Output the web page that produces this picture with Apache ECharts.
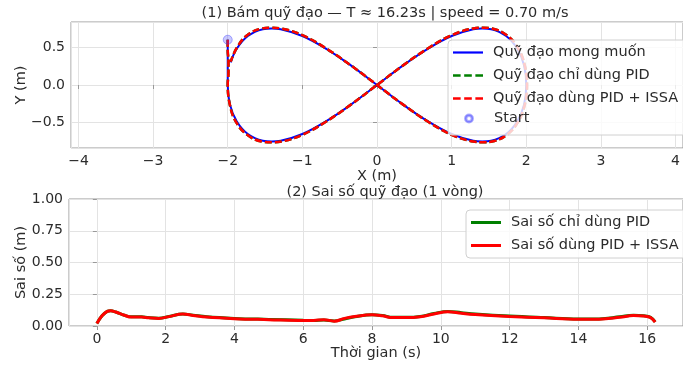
<!DOCTYPE html>
<html>
<head>
<meta charset="utf-8">
<script src="https://cdn.jsdelivr.net/npm/echarts@6/dist/echarts.min.js"></script>
<style>
  html, body { margin: 0; padding: 0; background: #fff; }
  #chart { width: 683px; height: 367px; }
</style>
</head>
<body>
<div id="chart"></div>
<script>
// (1) trajectory: [x, y] in metres
const desiredPath = [
  [-2.00, 0.60], [-2.00, 0.45], [-2.00, 0.30], [-2.00, 0.15], [-2.00, 0.00],
  [-1.97, -0.26], [-1.88, -0.48], [-1.73, -0.65], [-1.53, -0.74], [-1.41, -0.75],
  [-1.29, -0.74], [-1.00, -0.65], [-0.68, -0.48], [-0.35, -0.26], [0.00, 0.00],
  [0.35, 0.26], [0.68, 0.48], [1.00, 0.65], [1.29, 0.74], [1.41, 0.75],
  [1.53, 0.74], [1.73, 0.65], [1.88, 0.48], [1.97, 0.26], [2.00, 0.00],
  [1.97, -0.26], [1.88, -0.48], [1.73, -0.65], [1.53, -0.74], [1.41, -0.75],
  [1.29, -0.74], [1.00, -0.65], [0.68, -0.48], [0.35, -0.26], [0.00, 0.00],
  [-0.35, 0.26], [-0.68, 0.48], [-1.00, 0.65], [-1.29, 0.74], [-1.41, 0.75],
  [-1.53, 0.74], [-1.73, 0.65], [-1.88, 0.48], [-1.96, 0.30]
];
const pidPath = [
  [-2.00, 0.60], [-2.00, 0.46], [-1.99, 0.32], [-1.99, 0.17], [-2.00, 0.01],
  [-1.97, -0.27], [-1.89, -0.49], [-1.74, -0.66], [-1.54, -0.75], [-1.41, -0.76],
  [-1.28, -0.75], [-1.00, -0.66], [-0.69, -0.49], [-0.35, -0.26], [0.00, 0.00],
  [0.35, 0.26], [0.69, 0.49], [1.00, 0.66], [1.29, 0.75], [1.42, 0.76],
  [1.54, 0.75], [1.74, 0.66], [1.89, 0.49], [1.98, 0.26], [2.01, 0.00],
  [1.98, -0.26], [1.89, -0.49], [1.74, -0.66], [1.54, -0.75], [1.42, -0.76],
  [1.29, -0.75], [1.00, -0.66], [0.69, -0.49], [0.35, -0.26], [0.00, 0.00],
  [-0.35, 0.26], [-0.69, 0.49], [-1.00, 0.66], [-1.29, 0.75], [-1.42, 0.76],
  [-1.54, 0.75], [-1.74, 0.66], [-1.88, 0.49], [-1.96, 0.31]
];
const issaPath = [
  [-2.00, 0.60], [-2.00, 0.46], [-1.99, 0.32], [-1.99, 0.17], [-2.00, 0.01],
  [-1.97, -0.27], [-1.89, -0.49], [-1.74, -0.66], [-1.54, -0.75], [-1.41, -0.76],
  [-1.28, -0.75], [-1.00, -0.66], [-0.69, -0.49], [-0.35, -0.26], [0.00, 0.00],
  [0.35, 0.26], [0.69, 0.49], [1.00, 0.66], [1.29, 0.75], [1.42, 0.76],
  [1.54, 0.75], [1.74, 0.66], [1.89, 0.49], [1.98, 0.26], [2.01, 0.00],
  [1.98, -0.26], [1.89, -0.49], [1.74, -0.66], [1.54, -0.75], [1.42, -0.76],
  [1.29, -0.75], [1.00, -0.66], [0.69, -0.49], [0.35, -0.26], [0.00, 0.00],
  [-0.35, 0.26], [-0.69, 0.49], [-1.00, 0.66], [-1.29, 0.75], [-1.42, 0.76],
  [-1.54, 0.75], [-1.74, 0.66], [-1.88, 0.49], [-1.96, 0.31]
];
const startPoint = [-2.00, 0.60];

// (2) tracking error over one lap
const errTime = [0, 0.15, 0.3, 0.4, 0.55, 0.8, 1.0, 1.3, 1.5, 1.8, 2.1, 2.5, 2.8, 3.2, 4.0,
  5.0, 6.0, 6.3, 6.6, 6.9, 7.2, 7.5, 8.0, 8.3, 8.6, 9.0, 9.4, 9.8, 10.2, 10.6, 11.0,
  12.0, 13.0, 14.0, 14.6, 15.2, 15.6, 15.9, 16.1, 16.23];
const errPid = [0.02, 0.08, 0.115, 0.12, 0.11, 0.085, 0.072, 0.072, 0.066, 0.062, 0.075, 0.095, 0.085, 0.072, 0.06,
  0.052, 0.045, 0.044, 0.047, 0.04, 0.055, 0.072, 0.088, 0.082, 0.068, 0.068, 0.075, 0.098, 0.115, 0.105, 0.095,
  0.078, 0.066, 0.056, 0.056, 0.072, 0.085, 0.08, 0.068, 0.032];
const errIssa = [0.02, 0.08, 0.115, 0.12, 0.11, 0.085, 0.07, 0.07, 0.065, 0.06, 0.074, 0.094, 0.083, 0.07, 0.058,
  0.05, 0.043, 0.043, 0.05, 0.038, 0.06, 0.075, 0.088, 0.08, 0.066, 0.066, 0.073, 0.095, 0.113, 0.1, 0.09,
  0.075, 0.064, 0.054, 0.054, 0.068, 0.083, 0.078, 0.066, 0.03];

const FONT = 'DejaVu Sans';
const TXT = '#2b2b2b';
const minus = (v, d) => (v < 0 ? '\u2212' : '') + Math.abs(v).toFixed(d);

// legend glyphs: solid / dashed line and a small ring
const ICON_SOLID = 'path://M0,0h30v2.2h-30z';
const ICON_DASH = 'path://M0,0h7.5v2.6h-7.5z M11,0h7.5v2.6h-7.5z M22,0h7.5v2.6h-7.5z';
const ICON_RING = 'path://M0,4a4,4 0 1,0 8,0a4,4 0 1,0 -8,0z M1.4,4a2.6,2.6 0 1,1 5.2,0a2.6,2.6 0 1,1 -5.2,0z';

const chart = echarts.init(document.getElementById('chart'), null, { renderer: 'canvas' });

function valueAxis(extra) {
  return Object.assign({
    type: 'value',
    axisLine: { show: false },
    axisTick: { show: true, length: 4, lineStyle: { color: '#999' } },
    splitLine: { show: true, lineStyle: { color: '#e3e3e3', width: 1 } },
    nameLocation: 'middle',
    nameMoveOverlap: false,
    nameTextStyle: { color: TXT, fontSize: 14.5, fontFamily: FONT }
  }, extra);
}
function labels(d, edges) {
  return { color: TXT, fontSize: 14, fontFamily: FONT, margin: 6, showMinLabel: edges, showMaxLabel: edges,
    formatter: v => minus(v, d) };
}

const legendText = { color: TXT, fontSize: 14.5, fontFamily: FONT, padding: [0, 0, 0, 5] };

const option = {
  animation: false,
  backgroundColor: '#fff',
  textStyle: { fontFamily: FONT },
  title: [
    { text: '(1) Bám quỹ đạo — T ≈ 16.23s | speed = 0.70 m/s', left: 380, top: 1, textAlign: 'center',
      textStyle: { fontSize: 14.5, fontWeight: 'normal', color: TXT, fontFamily: FONT } },
    { text: '(2) Sai số quỹ đạo (1 vòng)', left: 380, top: 180, textAlign: 'center',
      textStyle: { fontSize: 14.5, fontWeight: 'normal', color: TXT, fontFamily: FONT } }
  ],
  grid: [
    { left: 71, right: -7, top: 22, height: 126, show: true, borderColor: '#999', borderWidth: 1 },
    { left: 69, right: -10, top: 199, height: 127, show: true, borderColor: '#999', borderWidth: 1 }
  ],
  xAxis: [
    valueAxis({ gridIndex: 0, min: -4.1, max: 4.1, splitNumber: 8, name: 'X (m)', nameGap: 21, axisLabel: labels(0, false) }),
    valueAxis({ gridIndex: 1, min: -0.81, max: 17.04, splitNumber: 9, name: 'Thời gian (s)', nameGap: 20, axisLabel: labels(0, false) })
  ],
  yAxis: [
    valueAxis({ gridIndex: 0, min: -0.835, max: 0.835, splitNumber: 3, name: 'Y (m)', nameGap: 42, nameRotate: 90, axisLabel: labels(1, false) }),
    valueAxis({ gridIndex: 1, min: 0, max: 1, interval: 0.25, name: 'Sai số (m)', nameGap: 40, nameRotate: 90, axisLabel: labels(2, true) })
  ],
  legend: [
    {
      orient: 'vertical', left: 448, top: 40, z: 10,
      data: [
        { name: 'Quỹ đạo mong muốn', icon: ICON_SOLID },
        { name: 'Quỹ đạo chỉ dùng PID', icon: ICON_DASH },
        { name: 'Quỹ đạo dùng PID + ISSA', icon: ICON_DASH }
      ],
      itemWidth: 30, itemHeight: 14, itemGap: 8,
      padding: [5, 40, 29, 5],
      backgroundColor: 'rgba(255,255,255,0.8)', borderColor: '#d0d0d0', borderWidth: 1, borderRadius: 4,
      textStyle: legendText
    },
    {
      orient: 'vertical', left: 459, top: 111, z: 11,
      data: [{ name: 'Start', icon: ICON_RING, itemStyle: { color: 'rgba(60,60,255,0.55)' } }],
      itemWidth: 30, itemHeight: 8, padding: [0, 5, 0, 5],
      textStyle: legendText
    },
    {
      orient: 'vertical', left: 466, top: 210, z: 10,
      data: [
        { name: 'Sai số chỉ dùng PID', icon: 'path://M0,0h30v3h-30z' },
        { name: 'Sai số dùng PID + ISSA', icon: 'path://M0,0h30v3h-30z' }
      ],
      itemWidth: 30, itemHeight: 14, itemGap: 8,
      padding: [5, 40, 5, 5],
      backgroundColor: 'rgba(255,255,255,0.8)', borderColor: '#d0d0d0', borderWidth: 1, borderRadius: 4,
      textStyle: legendText
    }
  ],
  series: [
    { name: 'Quỹ đạo mong muốn', type: 'line', xAxisIndex: 0, yAxisIndex: 0, data: desiredPath,
      smooth: 0.4, symbol: 'none', lineStyle: { color: '#0000ff', width: 2 }, itemStyle: { color: '#0000ff' } },
    { name: 'Quỹ đạo chỉ dùng PID', type: 'line', xAxisIndex: 0, yAxisIndex: 0, data: pidPath,
      smooth: 0.4, symbol: 'none', lineStyle: { color: '#008000', width: 2.5, type: [7, 3] }, itemStyle: { color: '#008000' } },
    { name: 'Quỹ đạo dùng PID + ISSA', type: 'line', xAxisIndex: 0, yAxisIndex: 0, data: issaPath,
      smooth: 0.4, symbol: 'none', lineStyle: { color: '#ff0000', width: 2.5, type: [7, 3] }, itemStyle: { color: '#ff0000' } },
    { name: 'Start', type: 'scatter', xAxisIndex: 0, yAxisIndex: 0, data: [startPoint], symbolSize: 9, z: 5,
      itemStyle: { color: 'rgba(60,60,255,0.35)', borderColor: 'rgba(60,60,255,0.5)', borderWidth: 1 } },
    { name: 'Sai số chỉ dùng PID', type: 'line', xAxisIndex: 1, yAxisIndex: 1,
      data: errTime.map((t, i) => [t, errPid[i]]), smooth: 0.4, symbol: 'none',
      lineStyle: { color: '#008000', width: 3 }, itemStyle: { color: '#008000' } },
    { name: 'Sai số dùng PID + ISSA', type: 'line', xAxisIndex: 1, yAxisIndex: 1,
      data: errTime.map((t, i) => [t, errIssa[i]]), smooth: 0.4, symbol: 'none',
      lineStyle: { color: '#ff0000', width: 3 }, itemStyle: { color: '#ff0000' } }
  ]
};

chart.setOption(option);
</script>
</body>
</html>
